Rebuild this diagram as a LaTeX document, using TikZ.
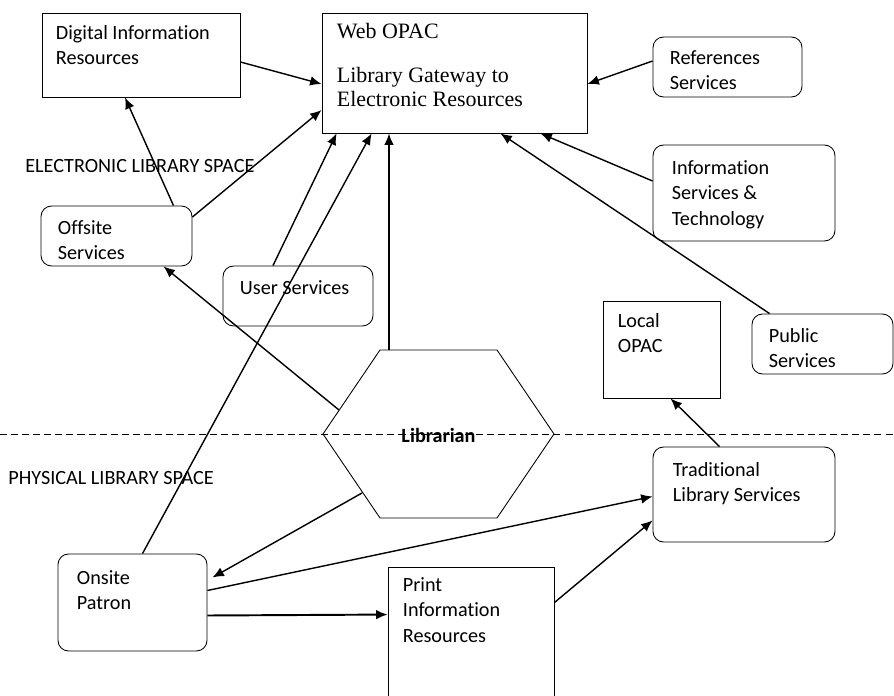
\documentclass[tikz,border=0pt]{standalone}
\usepackage{fontspec}
\setmainfont{Carlito}[Ligatures=NoCommon]
\newfontfamily\timesfont{Liberation Serif}
\usetikzlibrary{positioning, fit, arrows.meta}

\begin{document}
\begin{tikzpicture}[
        x=0.02cm, y=-0.02cm,
        every node/.style={font=\fontsize{11.5}{14.5}\selectfont},
        box/.style={draw, line width=0.5pt, inner sep=0pt},
        rbox/.style={box, rounded corners=6pt},
        txt/.style={inner sep=0pt, align=left},
        arrow/.style={-{Latex[length=6.5pt, width=5.5pt]}, line width=0.8pt},
        thickarrow/.style={arrow, line width=1.1pt}
    ]
    \useasboundingbox (0,0) rectangle (894,696);
%
    \node[box, fit={(42,13) (240,97)}] (digital) {};
    \node[box, fit={(322,13) (587,133)}] (web) {};
    \node[rbox, fit={(653,37) (802,97)}] (refs) {};
    \node[rbox, fit={(653,145) (835,241)}] (infoserv) {};
    \node[rbox, fit={(41,206) (192,266)}] (offsite) {};
    \node[rbox, fit={(223,266) (373,326)}] (user) {};
    \node[box, fit={(603,301) (720,398)}] (local) {};
    \node[rbox, fit={(752,314) (893,374)}] (public) {};
    \node[rbox, fit={(653,447) (835,542)}] (trad) {};
    \node[rbox, fit={(58,554) (207,651)}] (onsite) {};
    \node[box, fit={(388,567) (554,712)}] (print) {};
%
    \node[txt, below right=0.25cm and 0.28cm of digital.north west] (digitaltxt) {Digital Information\\Resources};
    \node[txt, font=\timesfont\fontsize{12.5}{13.7}\selectfont, below right=0.2cm and 0.3cm of web.north west] (webtxt) {Web OPAC\\[0.4cm]Library Gateway to\\Electronic Resources};
    \node[txt, below right=0.27cm and 0.34cm of refs.north west] (refstxt) {References\\Services};
    \node[txt, below right=0.31cm and 0.38cm of infoserv.north west] (infoservtxt) {Information\\Services \&\\Technology};
    \node[txt, below right=0.29cm and 0.34cm of offsite.north west] (offsitetxt) {Offsite\\Services};
    \node[txt, below right=0.29cm and 0.34cm of user.north west] (usertxt) {User Services};
    \node[txt, below right=0.25cm and 0.3cm of local.north west] (localtxt) {Local\\OPAC};
    \node[txt, below right=0.29cm and 0.34cm of public.north west] (publictxt) {Public\\Services};
    \node[txt, below right=0.31cm and 0.4cm of trad.north west] (tradtxt) {Traditional\\Library Services};
    \node[txt, below right=0.33cm and 0.38cm of onsite.north west] (onsitetxt) {Onsite\\Patron};
    \node[txt, below right=0.21cm and 0.3cm of print.north west] (printtxt) {Print\\Information\\Resources};
%
    \node[txt, anchor=west] (elec) at (25,166) {ELECTRONIC LIBRARY SPACE};
    \node[txt, anchor=west] (phys) at (8,478) {PHYSICAL LIBRARY SPACE};
%
    % divider and librarian hexagon
    \draw[line width=0.5pt, dash pattern=on 4pt off 2.3pt] (0,434) -- (894,434);
    \draw[line width=0.5pt] (380,350) -- (497,350) -- (554,434) -- (497,518) -- (380,518) -- (323,434) -- cycle;
    \node[txt, font=\fontsize{11.5}{14.5}\selectfont\bfseries] (librarian) at (438.5,435) {Librarian};
    \coordinate (libtop) at (389,350);
    \coordinate (libup) at (339,410);
    \coordinate (libdown) at (362,493);
%
    \draw[arrow] ([shift={(0,7)}]digital.east) -- ([shift={(0,11)}]web.west);
    \draw[arrow] ([shift={(57,0)}]offsite.north) -- ([shift={(-16,0)}]digital.south);
    \draw[arrow] ([shift={(0,-19)}]offsite.east) -- ([shift={(0,37)}]web.west);
    \draw[arrow] ([shift={(-25,0)}]user.north) -- ([shift={(15,0)}]web.south west);
    \draw[arrow] ([shift={(10,0)}]onsite.north) -- ([shift={(50,0)}]web.south west);
    \draw[thickarrow] (libtop) -- (libtop |- web.south);
    \draw[arrow] ([shift={(0,-6)}]refs.west) -- ([shift={(0,11)}]web.east);
    \draw[arrow] ([shift={(0,-12)}]infoserv.west) -- ([shift={(-47,0)}]web.south east);
    \draw[arrow] ([shift={(18,0)}]public.north west) -- ([shift={(-87,0)}]web.south east);
    \draw[arrow] (libup) -- ([shift={(47,0)}]offsite.south);
    \draw[arrow] (libdown) -- ([shift={(5,-25)}]onsite.east);
    \draw[arrow] ([shift={(0,-12)}]onsite.east) -- ([shift={(0,2)}]trad.west);
    \draw[thickarrow] ([shift={(0,13)}]onsite.east) -- ([shift={(0,48)}]print.north west);
    \draw[arrow] ([shift={(0,36)}]print.north east) -- ([shift={(0,-22)}]trad.south west);
    \draw[arrow] ([shift={(67,0)}]trad.north west) -- ([shift={(9,0)}]local.south);
%
\end{tikzpicture}
\end{document}
